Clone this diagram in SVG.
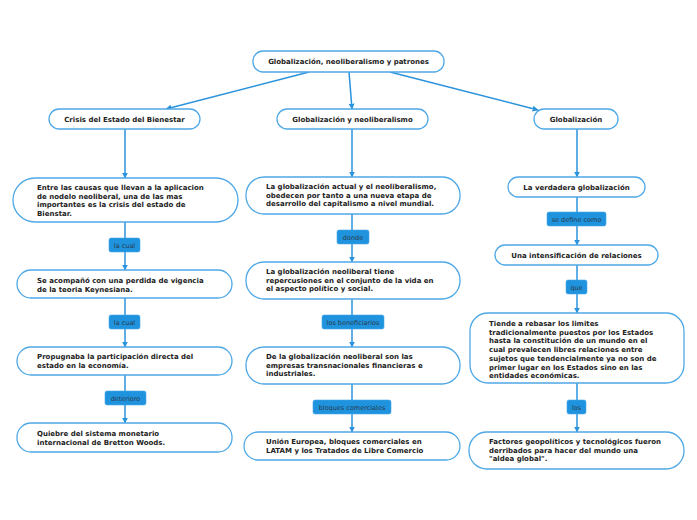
<svg xmlns="http://www.w3.org/2000/svg" width="697" height="520" viewBox="0 0 697 520">
<defs>
<marker id="ah" viewBox="0 0 10 10" refX="9" refY="5" markerWidth="6" markerHeight="6" markerUnits="userSpaceOnUse" orient="auto"><path d="M0,0 L10,5 L0,10 z" fill="#2a93dc"/></marker>
<style>
.n{fill:#fff;stroke:#4fa8e6;stroke-width:1.3}
.t{font-family:"DejaVu Sans",Verdana,sans-serif;font-weight:bold;font-size:7px;fill:#222}
.c{text-anchor:middle}
.e{stroke:#2a93dc;stroke-width:1.5;fill:none;marker-end:url(#ah)}
.lb{fill:#1f93de;stroke:#49a9ea;stroke-width:0.6}
.lt{font-family:"DejaVu Sans",Verdana,sans-serif;font-size:6.5px;fill:#2a3a4a;text-anchor:middle}
</style>
</defs>
<rect width="697" height="520" fill="#fff"/>
<g id="connectors">
<path class="e" d="M309,72 L166,109"/>
<path class="e" d="M349,72 L352,109"/>
<path class="e" d="M390,72 L538,110"/>
<path class="e" d="M125,129 L125,178"/>
<path class="e" d="M125,222 L125,270"/>
<path class="e" d="M125,298 L125,347"/>
<path class="e" d="M125,375 L125,423"/>
<path class="e" d="M352,129 L352,177"/>
<path class="e" d="M352,214 L352,262"/>
<path class="e" d="M352,299 L352,347"/>
<path class="e" d="M352,384 L352,432"/>
<path class="e" d="M577,129 L577,177"/>
<path class="e" d="M577,197 L577,245"/>
<path class="e" d="M577,265 L577,313"/>
<path class="e" d="M577,383 L577,432"/>
</g>
<g id="labels">
<g id="l1"><rect class="lb" x="109" y="238" width="31" height="14" rx="2"/><text class="lt" x="124.5" y="247.5">la cual</text></g>
<g id="l2"><rect class="lb" x="109" y="315" width="31" height="14" rx="2"/><text class="lt" x="124.5" y="324.5">la cual</text></g>
<g id="l3"><rect class="lb" x="105" y="391" width="41" height="14" rx="2"/><text class="lt" x="125.5" y="400.5">deterioro</text></g>
<g id="l4"><rect class="lb" x="337" y="230" width="32" height="14" rx="2"/><text class="lt" x="353" y="239.5">donde</text></g>
<g id="l5"><rect class="lb" x="322" y="315" width="62" height="14" rx="2"/><text class="lt" x="353" y="324.5">los beneficiarios</text></g>
<g id="l6"><rect class="lb" x="313" y="400" width="78" height="14" rx="2"/><text class="lt" x="352" y="409.5">bloques comerciales</text></g>
<g id="l7"><rect class="lb" x="547" y="212" width="59" height="14" rx="2"/><text class="lt" x="576.5" y="221.5">se define como</text></g>
<g id="l8"><rect class="lb" x="566" y="280" width="21" height="14" rx="2"/><text class="lt" x="576.5" y="289.5">que</text></g>
<g id="l9"><rect class="lb" x="567" y="400" width="19" height="14" rx="2"/><text class="lt" x="576.5" y="409.5">los</text></g>
</g>
<g id="root"><rect class="n" x="253" y="51" width="191" height="21" rx="10"/><text class="t c" x="348.5" y="64">Globalización, neoliberalismo y patrones</text></g>
<g id="crisis"><rect class="n" x="49" y="109" width="151" height="20" rx="10"/><text class="t c" x="124.5" y="122">Crisis del Estado del Bienestar</text></g>
<g id="globneo"><rect class="n" x="277" y="109" width="151" height="20" rx="10"/><text class="t c" x="352.5" y="122">Globalización y neoliberalismo</text></g>
<g id="glob"><rect class="n" x="534" y="109" width="84" height="20" rx="10"/><text class="t c" x="576" y="122">Globalización</text></g>
<g id="entre"><rect class="n" x="13" y="178" width="225" height="44" rx="22"/><text class="t" x="37" y="190"><tspan x="37">Entre las causas que llevan a la aplicacion</tspan><tspan x="37" dy="8.7">de nodelo neoliberal, una de las mas</tspan><tspan x="37" dy="8.7">importantes es la crisis del estado de</tspan><tspan x="37" dy="8.7">Bienstar.</tspan></text></g>
<g id="acomp"><rect class="n" x="17" y="270" width="215" height="28" rx="14"/><text class="t" x="37" y="283"><tspan x="37">Se acompañó con una perdida de vigencia</tspan><tspan x="37" dy="8.7">de la teoria Keynesiana.</tspan></text></g>
<g id="propug"><rect class="n" x="17" y="347" width="215" height="28" rx="14"/><text class="t" x="37" y="359"><tspan x="37">Propugnaba la participación directa del</tspan><tspan x="37" dy="8.7">estado en la economía.</tspan></text></g>
<g id="quiebre"><rect class="n" x="17" y="423" width="215" height="29" rx="14"/><text class="t" x="37" y="436"><tspan x="37">Quiebre del sistema monetario</tspan><tspan x="37" dy="8.7">internacional de Bretton Woods.</tspan></text></g>
<g id="actual"><rect class="n" x="246" y="177" width="214" height="37" rx="18"/><text class="t" x="266" y="189"><tspan x="266">La globalización actual y el neoliberalismo,</tspan><tspan x="266" dy="8.7">obedecen por tanto a una nueva etapa de</tspan><tspan x="266" dy="8.7">desarrollo del capitalismo a nivel mundial.</tspan></text></g>
<g id="reperc"><rect class="n" x="246" y="262" width="214" height="37" rx="18"/><text class="t" x="266" y="274"><tspan x="266">La globalización neoliberal tiene</tspan><tspan x="266" dy="8.7">repercusiones en el conjunto de la vida en</tspan><tspan x="266" dy="8.7">el aspecto político y social.</tspan></text></g>
<g id="empresas"><rect class="n" x="246" y="347" width="214" height="37" rx="18"/><text class="t" x="266" y="359"><tspan x="266">De la globalización neoliberal son las</tspan><tspan x="266" dy="8.7">empresas transnacionales financieras e</tspan><tspan x="266" dy="8.7">industriales.</tspan></text></g>
<g id="union"><rect class="n" x="244" y="432" width="216" height="28" rx="14"/><text class="t" x="266" y="444"><tspan x="266">Unión Europea, bloques comerciales en</tspan><tspan x="266" dy="8.7">LATAM y los Tratados de Libre Comercio</tspan></text></g>
<g id="verdadera"><rect class="n" x="508" y="177" width="137" height="20" rx="10"/><text class="t c" x="576.5" y="190">La verdadera globalización</text></g>
<g id="intens"><rect class="n" x="495" y="245" width="163" height="20" rx="10"/><text class="t c" x="576.5" y="258">Una intensificación de relaciones</text></g>
<g id="tiende"><rect class="n" x="470" y="313" width="214" height="70" rx="18"/><text class="t" x="489" y="326"><tspan x="489">Tiende a rebasar los limites</tspan><tspan x="489" dy="8.7">tradicionalmente puestos por los Estados</tspan><tspan x="489" dy="8.7">hasta la constitución de un mundo en el</tspan><tspan x="489" dy="8.7">cual prevalecen libres relaciones entre</tspan><tspan x="489" dy="8.7">sujetos que tendencialmente ya no son de</tspan><tspan x="489" dy="8.7">primer lugar en los Estados sino en las</tspan><tspan x="489" dy="8.7">entidades económicas.</tspan></text></g>
<g id="factores"><rect class="n" x="469" y="432" width="215" height="37" rx="18"/><text class="t" x="489" y="444"><tspan x="489">Factores geopolíticos y tecnológicos fueron</tspan><tspan x="489" dy="8.7">derribados para hacer del mundo una</tspan><tspan x="489" dy="8.7">"aldea global".</tspan></text></g>
</svg>
